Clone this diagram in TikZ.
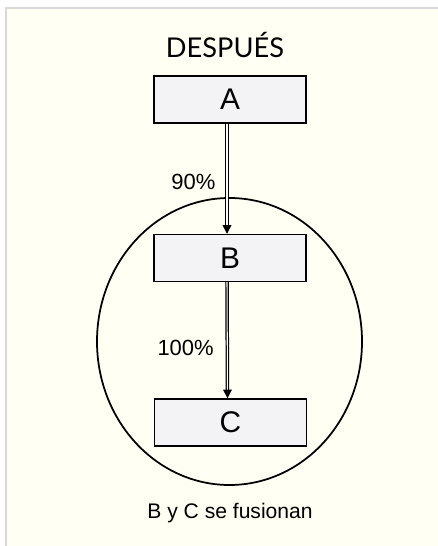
\documentclass[tikz,border=0pt]{standalone}
\usepackage{fontspec}
\setmainfont{Liberation Sans}
\newfontfamily\titlefont{Lato}
\usetikzlibrary{arrows.meta}
\definecolor{cream}{HTML}{FFFFF3}
\definecolor{boxfill}{HTML}{F3F3F5}
\definecolor{edge}{HTML}{D8D8D8}

\begin{document}
\begin{tikzpicture}[x=0.02cm, y=-0.02cm,
  stage/.style={draw, line width=0.8pt, fill=boxfill, minimum width=3.04cm, minimum height=0.94cm, font=\fontsize{17}{20}\selectfont},
  flow/.style={double distance=0.6pt, line width=0.7pt, -{Triangle[length=5pt, width=5pt]}},
  share/.style={inner sep=0pt, font=\fontsize{12.5}{15}\selectfont}]
\useasboundingbox (0,0) rectangle (438,546);
\fill[cream] (6,8) rectangle (438,546);
\draw[edge, line width=1.2pt] (6,546) -- (6,8) -- (438,8);

\node (title) at (225,45) {\titlefont\fontsize{15.5}{19}\selectfont DESPUÉS};

\node[stage] (A) at (230,99.5) {A};
\node[stage] (B) at (230,258) {B};
\node[stage] (C) at (230.5,422.5) {C};

% la fusion
\draw[line width=1pt] (229.5,341.5) ellipse [x radius=132.5, y radius=143.5];

\draw[flow] ([xshift=-0.06cm]A.south) -- node[share, pos=0.53, left=0.22cm] {90\%} ([xshift=-0.06cm]B.north);
\draw[flow] ([xshift=-0.06cm]B.south) -- node[share, pos=0.57, left=0.26cm] {100\%} ([xshift=-0.06cm]C.north);

\node[font=\fontsize{12}{14}\selectfont] (note) at (230,513) {B y C se fusionan};
\end{tikzpicture}
\end{document}
